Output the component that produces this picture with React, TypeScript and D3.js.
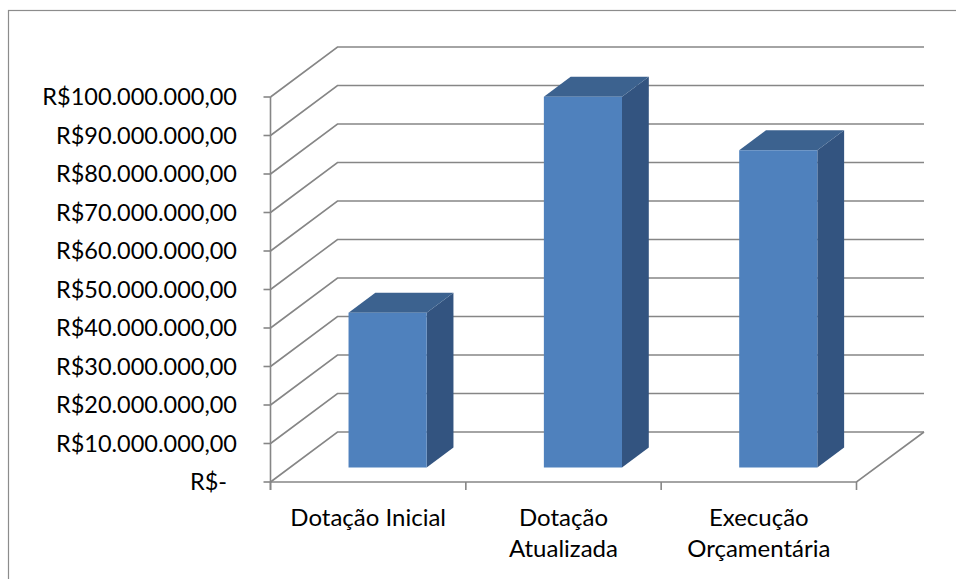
import React from "react";
import * as d3 from "d3";

const categories: string[][] = [["Dotação Inicial"], ["Dotação", "Atualizada"], ["Execução", "Orçamentária"]];
const values: number[] = [40.2e6, 96.3e6, 82.4e6];
const tickValues: number[] = [0, 10e6, 20e6, 30e6, 40e6, 50e6, 60e6, 70e6, 80e6, 90e6, 100e6];
const tickLabels: string[] = [
  "R$-",
  "R$10.000.000,00",
  "R$20.000.000,00",
  "R$30.000.000,00",
  "R$40.000.000,00",
  "R$50.000.000,00",
  "R$60.000.000,00",
  "R$70.000.000,00",
  "R$80.000.000,00",
  "R$90.000.000,00",
  "R$100.000.000,00",
];

const W = 956;
const H = 579;
const X0 = 270.5;
const X1 = 856.5;
const DX = 67; // depth offset x
const DY = -50; // depth offset y
const BACK_RIGHT = 924;
const GRID = "#868686";
const FONT = "Lato, 'Open Sans', sans-serif";
const FS_TICK = 23.5;
const FS_CAT = 24;

export default function App() {
  const y = d3.scaleLinear().domain([0, 100e6]).range([482, 97]);
  const x = d3.scaleBand<number>().domain(d3.range(categories.length)).range([X0, X1]);
  const bw = x.bandwidth();
  const barW = bw * 0.4;
  const d0 = 0.29; // depth fraction of bar front
  const d1 = 0.4; // bar depth fraction

  return (
    <svg
      width={W}
      height={H}
      style={{ position: "absolute", left: 0, top: 0, background: "#fff" }}
      fontFamily={FONT}
    >
      {/* outer frame */}
      <rect x={8.5} y={10.5} width={W + 20} height={H + 20} fill="#fff" stroke="#8c8c8c" strokeWidth={1.2} />

      {/* gridlines: front diagonal + back wall horizontal */}
      {tickValues.map((v, i) => {
        const yy = y(v);
        return (
          <g key={"g" + i}>
            <path
              d={`M${X0},${yy}L${X0 + DX},${yy + DY}L${BACK_RIGHT},${yy + DY}`}
              fill="none"
              stroke={GRID}
              strokeWidth={1.6}
            />
            <line x1={X0 - 7} x2={X0} y1={yy} y2={yy} stroke={GRID} strokeWidth={1.6} />
            <text
              x={v === 0 ? 227 : 237}
              y={yy}
              dy="0.36em"
              textAnchor="end"
              fontSize={FS_TICK}
              fill="#000"
            >
              {tickLabels[i]}
            </text>
          </g>
        );
      })}

      {/* floor */}
      <path
        d={`M${X0},${y(0)}L${X1},${y(0)}L${BACK_RIGHT},${y(0) + DY}`}
        fill="none"
        stroke={GRID}
        strokeWidth={1.6}
      />
      {/* vertical axis */}
      <line x1={X0} x2={X0} y1={y(100e6)} y2={y(0) + 8} stroke={GRID} strokeWidth={1.6} />
      {/* category ticks */}
      {d3.range(categories.length + 1).map((i) => {
        const xx = X0 + bw * i;
        return <line key={"t" + i} x1={xx} x2={xx} y1={y(0)} y2={y(0) + 8} stroke={GRID} strokeWidth={1.6} />;
      })}

      {/* bars */}
      {values.map((v, i) => {
        const cx = (x(i) as number) + bw / 2;
        const fx0 = cx - barW / 2 + DX * d0;
        const fx1 = cx + barW / 2 + DX * d0;
        const fyTop = y(v) + DY * d0;
        const fyBot = y(0) + DY * d0;
        const ox = DX * d1;
        const oy = DY * d1;
        return (
          <g key={"b" + i}>
            <path
              d={`M${fx1},${fyTop}L${fx1 + ox},${fyTop + oy}L${fx1 + ox},${fyBot + oy}L${fx1},${fyBot}Z`}
              fill="#335480"
            />
            <path
              d={`M${fx0},${fyTop}L${fx0 + ox},${fyTop + oy}L${fx1 + ox},${fyTop + oy}L${fx1},${fyTop}Z`}
              fill="#3c628f"
            />
            <rect x={fx0} y={fyTop} width={fx1 - fx0} height={fyBot - fyTop} fill="#4f81bd" />
          </g>
        );
      })}

      {/* category labels */}
      {categories.map((lines, i) => {
        const cx = (x(i) as number) + bw / 2;
        return (
          <text key={"c" + i} x={cx} y={526} textAnchor="middle" fontSize={FS_CAT} fill="#000">
            {lines.map((ln, j) => (
              <tspan key={j} x={cx} dy={j === 0 ? 0 : 31}>
                {ln}
              </tspan>
            ))}
          </text>
        );
      })}
    </svg>
  );
}
